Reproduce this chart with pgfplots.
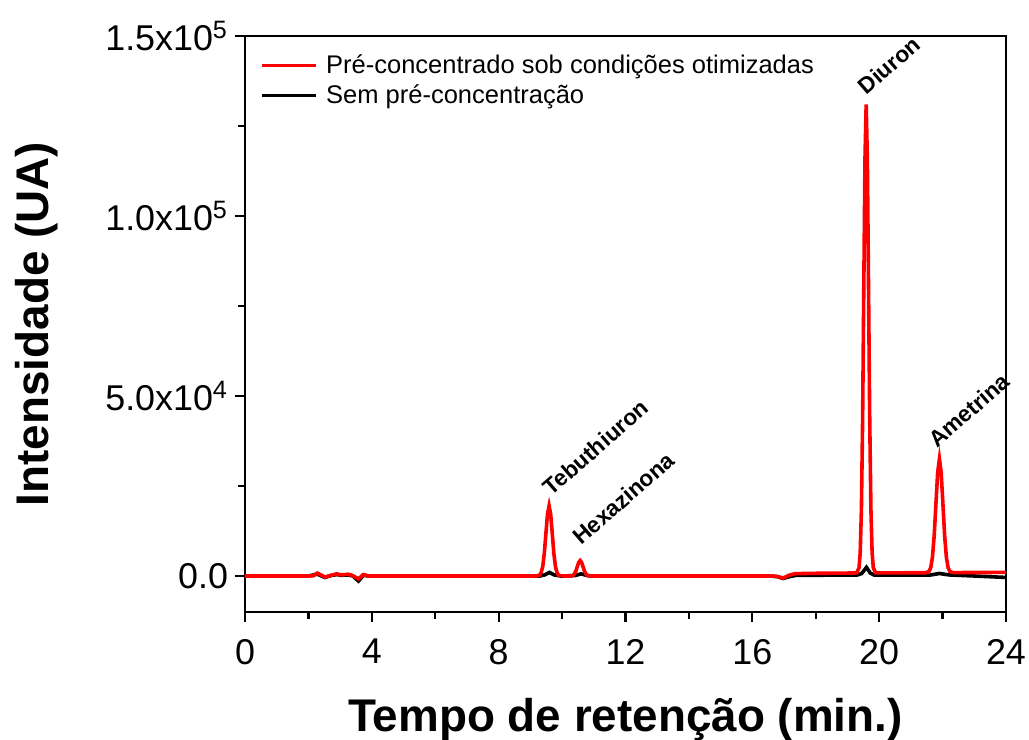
\documentclass[border=0pt]{standalone}
\usepackage{pgfplots}
\pgfplotsset{compat=1.18}
\usepackage{fontspec}
\setmainfont{Liberation Sans}

\begin{document}
\begin{tikzpicture}
\useasboundingbox (-122.5bp,-64bp) rectangle (392bp,306bp);
\begin{axis}[
  scale only axis, width=380.5bp, height=288bp,
  xmin=0, xmax=24, ymin=-10000, ymax=150000,
  clip=false,
  xtick={0,4,...,24}, minor x tick num=1,
  ytick={0,50000,100000,150000},
  yticklabels={0.0, 5.0x10\textsuperscript{4}, 1.0x10\textsuperscript{5}, 1.5x10\textsuperscript{5}},
  minor y tick num=1,
  scaled y ticks=false,
  tick align=outside, tick pos=left,
  major tick length=5bp, minor tick length=3.5bp,
  every tick/.style={black, line width=1.1bp},
  axis line style={line width=1.3bp},
  tick label style={font=\fontsize{18}{20}\selectfont},
  xticklabel shift=5bp,
  /pgf/number format/assume math mode=true,
  xlabel={Tempo de retenção (min.)},
  ylabel={Intensidade (UA)},
  xlabel shift=10bp, ylabel shift=17bp,
  label style={font=\bfseries\fontsize{23}{26}\selectfont},
  legend cell align=left,
  legend image code/.code={\draw[#1, line width=1.8bp] (0bp,0bp) -- (27bp,0bp);},
  legend style={at={(0.02,0.975)}, anchor=north west, draw=none, fill=none,
    font=\fontsize{12.8}{15.5}\selectfont, inner sep=0pt,
    /tikz/every odd column/.append style={column sep=2bp}},
]
\addlegendimage{red}
\addlegendentry{Pré-concentrado sob condições otimizadas}
\addlegendimage{black}
\addlegendentry{Sem pré-concentração}

% run without pre-concentration
\addplot[black, line width=1.8bp, forget plot] coordinates {
(0,0) (2.0,0) (2.28,500) (2.52,-400) (2.7,100) (2.89,400) (3.05,200) (3.26,300) (3.4,0)
(3.58,-1400) (3.73,200) (3.9,0) (9.3,0) (9.45,300) (9.6,1000) (9.75,300) (9.95,0)
(10.4,100) (10.6,600) (10.8,100) (11.0,0) (16.6,0) (16.8,-200) (16.97,-700) (17.2,-100)
(17.4,200) (19.3,250) (19.45,700) (19.6,2400) (19.72,800) (19.85,250) (21.6,250)
(21.9,700) (22.2,300) (23.0,0) (24,-400)
};

% run after pre-concentration under optimised conditions
\addplot[red, line width=1.8bp, forget plot] coordinates {
(0,0) (2.0,0) (2.15,50) (2.28,800) (2.4,300) (2.52,-300) (2.7,150) (2.89,600) (3.05,300)
(3.26,500) (3.4,100) (3.58,-800) (3.73,400) (3.9,0)
(9.19,0) (9.29,240) (9.34,950) (9.39,2640) (9.44,6330) (9.49,11830) (9.54,17210)
(9.59,19500)
(9.64,17210) (9.69,11830) (9.74,6330) (9.79,2640) (9.84,950) (9.89,240) (9.99,20)
(10.21,0) (10.30,48) (10.345,189) (10.39,582) (10.435,1396) (10.48,2608) (10.525,3795)
(10.57,4300)
(10.615,3795) (10.66,2608) (10.705,1396) (10.75,582) (10.795,189) (10.84,48) (10.93,0)
(16.6,0) (16.8,-150) (16.97,-600) (17.15,200) (17.35,650) (18.0,750) (19.0,820)
(19.29,850) (19.365,2295) (19.4025,6564) (19.44,18460) (19.4775,43110) (19.515,79790)
(19.5525,115710)
(19.59,131000)
(19.6275,115710) (19.665,79790) (19.7025,43110) (19.74,18460) (19.7775,6564)
(19.815,2295) (19.89,860)
(21.46,910) (21.57,1251) (21.625,2287) (21.68,5175) (21.735,11160) (21.79,20065)
(21.845,28787)
(21.9,32500)
(21.955,28787) (22.01,20065) (22.065,11160) (22.12,5175) (22.175,2287) (22.23,1251)
(22.34,950) (24,1000)
};

% peak names
\begin{scope}[every node/.style={rotate=41, anchor=base west, inner sep=0pt,
    font=\bfseries\fontsize{11.4}{13}\selectfont}]
\node at (axis cs:9.66,22000) {Tebuthiuron};
\node at (axis cs:10.59,8300) {Hexazinona};
\node at (axis cs:19.6,133500) {Diuron};
\node at (axis cs:21.82,35300) {Ametrina};
\end{scope}
\end{axis}
\end{tikzpicture}
\end{document}
